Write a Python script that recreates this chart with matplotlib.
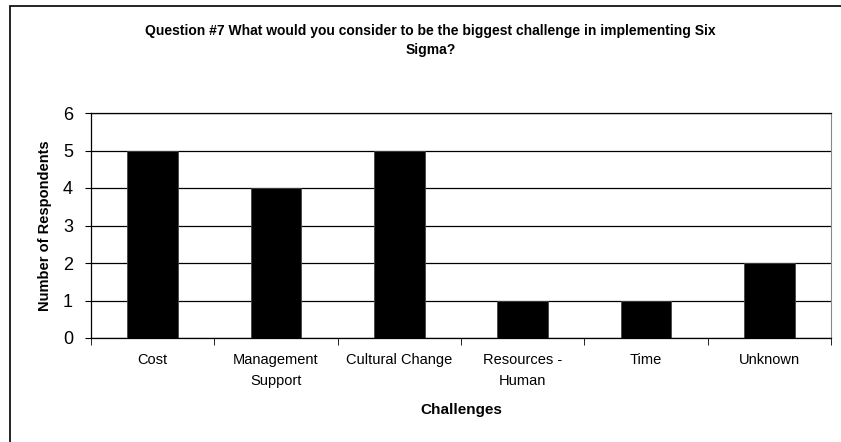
import matplotlib.pyplot as plt
from matplotlib.patches import Rectangle

plt.rcParams['font.family'] = ['Liberation Sans', 'DejaVu Sans']

categories = ['Cost', 'Management\nSupport', 'Cultural Change', 'Resources -\nHuman', 'Time', 'Unknown']
counts = [5, 4, 5, 1, 1, 2]

fig = plt.figure(figsize=(8.41, 4.42), dpi=100)
ax = fig.add_axes([91 / 841, 104 / 442, 740 / 841, 225 / 442])

# outer chart frame
fig.patches.append(Rectangle((10 / 841, -0.1), 1.2, (436 / 442) + 0.1, transform=fig.transFigure,
                             fill=False, edgecolor='black', linewidth=1.2))

x = list(range(len(categories)))
ax.bar(x, counts, width=0.41, color='black', edgecolor='#444444', linewidth=0.6, zorder=3)

ax.set_xlim(-0.5, len(categories) - 0.5)
ax.set_ylim(0, 6)
ax.set_yticks(range(0, 7))
ax.yaxis.grid(True, color='black', linewidth=0.9, zorder=0)
ax.set_axisbelow(True)

# category labels centred, ticks on the category boundaries
ax.set_xticks(x)
ax.set_xticklabels(categories, fontsize=10.5, linespacing=1.62)
ax.tick_params(axis='x', which='major', length=0, pad=11)
ax.set_xticks([i - 0.5 for i in range(len(categories) + 1)], minor=True)
ax.tick_params(axis='x', which='minor', length=5, direction='out', color='black')
ax.tick_params(axis='y', labelsize=13, length=4, direction='out', pad=9)

for s in ['left', 'bottom', 'top']:
    ax.spines[s].set_color('black')
    ax.spines[s].set_linewidth(0.9)
ax.spines['right'].set_color('#888888')

ax.set_xlabel('Challenges', fontsize=11, fontweight='bold', labelpad=11)
ax.set_ylabel('Number of Respondents', fontsize=10.5, fontweight='bold', labelpad=8)
fig.text(0.512, 0.909, 'Question #7 What would you consider to be the biggest challenge in implementing Six\nSigma?',
         ha='center', va='center', fontsize=10, fontweight='bold', linespacing=1.48)

fig.savefig('out.png', dpi=100)
